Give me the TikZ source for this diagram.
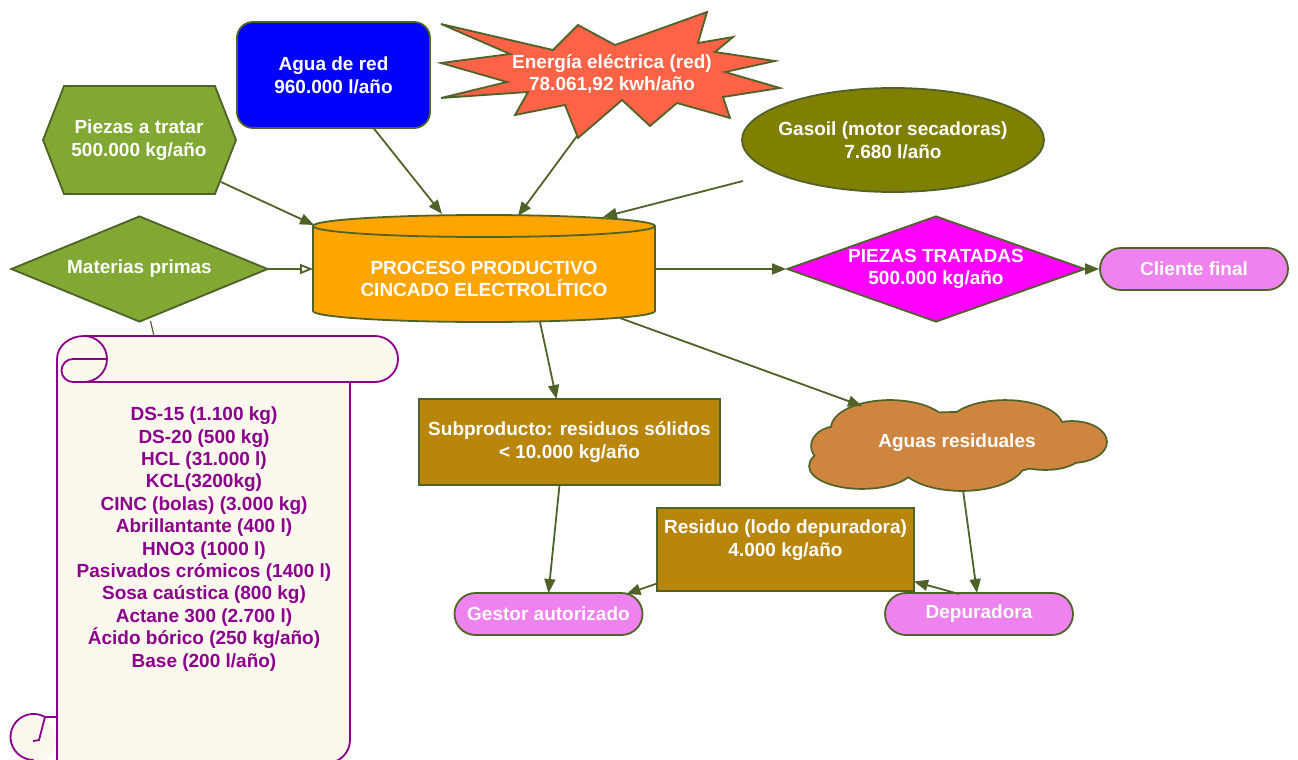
\documentclass[tikz,border=0pt]{standalone}
\usepackage{fontspec}
\setmainfont{Liberation Sans}
\usetikzlibrary{shapes.geometric,shapes.misc,shapes.symbols,arrows.meta,calc}
\definecolor{bord}{HTML}{4F6228}
\definecolor{hexgreen}{HTML}{80A832}
\definecolor{tomatoC}{HTML}{FF6347}
\definecolor{oliveC}{HTML}{808000}
\definecolor{orangeC}{HTML}{FFA500}
\definecolor{magC}{HTML}{FF00FF}
\definecolor{violC}{HTML}{EE82EE}
\definecolor{goldC}{HTML}{B8860B}
\definecolor{peruC}{HTML}{CD853F}
\definecolor{scrollfill}{HTML}{FDF8EE}
\definecolor{scrollline}{HTML}{8B008B}
\begin{document}
\begin{tikzpicture}[x=1pt,y=-1pt,
  txt/.style={font=\bfseries\fontsize{19}{22.7}\selectfont, text=white, align=center, inner sep=2pt},
  bx/.style={draw=bord, line width=1.8pt},
  conn/.style={draw=bord, line width=1.8pt, -{Triangle[length=14pt,width=11pt]}},
  pill/.style={txt, bx, rounded rectangle, fill=violC, minimum width=192pt, minimum height=42pt},
  scr/.style={draw=scrollline, line width=1.8pt},
]
\useasboundingbox (0,0) rectangle (1298,760);

% ---- scroll (lista de materias primas)
\begin{scope}
\clip (0,0) rectangle (1298,760);
\fill[scrollfill] (57,775) -- (57,359) arc[start angle=180, end angle=90, x radius=27pt, y radius=23pt]
  -- (375,336) arc[start angle=90, end angle=-90, radius=23pt] -- (350,382) -- (350,775) -- cycle;
\fill[scrollfill] (33,740) circle[radius=23pt];
\draw[scr] (57,775) -- (57,359) arc[start angle=180, end angle=90, x radius=27pt, y radius=23pt]
  -- (375,336) arc[start angle=90, end angle=-90, radius=23pt] -- (73,382);
\draw[scr] (84,336) arc[start angle=90, end angle=-90, radius=23pt];
\draw[scr] (107,359) -- (73,359) arc[start angle=90, end angle=270, radius=11.5pt];
\draw[scr] (350,382) -- (350,740) arc[start angle=0, end angle=-90, radius=23pt] -- (300,763);
\draw[scr] (57,717) -- (45,717) arc[start angle=60, end angle=270, radius=23pt];
\draw[scr] (45,717) -- (39,740) -- (33,741);
\end{scope}
\node[font=\bfseries\fontsize{19}{22.4}\selectfont, text=scrollline, align=center] (lista) at (204,539)
 {DS-15 (1.100 kg)\\DS-20 (500 kg)\\HCL (31.000 l)\\KCL(3200kg)\\CINC (bolas) (3.000 kg)\\Abrillantante (400 l)\\HNO3 (1000 l)\\Pasivados crómicos (1400 l)\\Sosa caústica (800 kg)\\Actane 300 (2.700 l)\\Ácido bórico (250 kg/año)\\Base (200 l/año)};
\coordinate (scrolltop) at (154,336);

% ---- hexagon
\draw[bx, fill=hexgreen] (43,140) -- (64,86) -- (215,86) -- (236,140) -- (215,194) -- (64,194) -- cycle;
\node[txt, minimum width=193pt, minimum height=108pt] (piezas) at (139,140) {Piezas a tratar\\500.000 kg/año};

% ---- agua
\node[txt, bx, fill=blue, rounded corners=16pt, minimum width=193pt, minimum height=106pt] (agua) at (333.5,75) {Agua de red\\960.000 l/año};

% ---- starburst
\draw[bx, fill=tomatoC] (441,24) -- (553,50) -- (578,25) -- (615,45) -- (707,12) -- (698,43) -- (733,37) -- (715,52)
  -- (775,61) -- (725,72) -- (780,88) -- (723,97) -- (730,118) -- (677,103) -- (650,126) -- (622,100)
  -- (578,138) -- (565,105) -- (515,115) -- (528,92) -- (441,98) -- (507,82) -- (441,63) -- (510,54) -- cycle;
\node[txt] (energia) at (612,74) {Energía eléctrica (red)\\78.061,92 kwh/año};

% ---- gasoil
\draw[bx, fill=oliveC] (893,140) ellipse [x radius=151pt, y radius=52pt];
\node[txt] (gasoil) at (893,140) {Gasoil (motor secadoras)\\7.680 l/año};

% ---- cylinder
\draw[bx, fill=orangeC] (313,226) -- (313,311) arc[start angle=180, end angle=360, x radius=171pt, y radius=11pt]
  -- (655,226) arc[start angle=0, end angle=180, x radius=171pt, y radius=11pt] -- cycle;
\draw[bx] (313,226) arc[start angle=180, end angle=360, x radius=171pt, y radius=11pt];
\node[txt, minimum width=342pt, minimum height=86pt] (proc) at (484,279) {PROCESO PRODUCTIVO\\CINCADO ELECTROLÍTICO};

% ---- diamonds
\node[txt, bx, diamond, fill=hexgreen, minimum width=257pt, minimum height=106pt, aspect=2.42, inner sep=0pt] (materias) at (139.5,269) {Materias primas};
\node[txt, bx, diamond, fill=magC, minimum width=298pt, minimum height=106pt, aspect=2.8, inner sep=0pt] (piezasT) at (936,269) {PIEZAS TRATADAS\\500.000 kg/año};

% ---- pills
\node[pill] (cliente) at (1194,269) {Cliente final};
\node[pill] (gestor) at (548.5,614) {Gestor autorizado};
\node[pill] (depur) at (979,614) {Depuradora};

% ---- brown boxes
\node[txt, bx, fill=goldC, minimum width=301pt, minimum height=86pt] (sub) at (569.5,442) {Subproducto: residuos sólidos\\< 10.000 kg/año};
\node[txt, bx, fill=goldC, minimum width=257pt, minimum height=83pt] (residuo) at (785.5,549.5) {Residuo (lodo depuradora)\\4.000 kg/año\\\mbox{}};

% ---- cloud (union of puffs)
\def\puffs{890/428/58/27, 1005/427/57/26, 1072/442/34/20, 1045/456/34/13, 962/462/62/28, 862/466/52/22, 838/446/26/19, 955/445/105/32}
\foreach \cx/\cy/\rx/\ry in \puffs {\draw[draw=bord, line width=3.6pt] (\cx,\cy) ellipse[x radius=\rx pt, y radius=\ry pt];}
\foreach \cx/\cy/\rx/\ry in \puffs {\fill[peruC] (\cx,\cy) ellipse[x radius=\rx pt, y radius=\ry pt];}
\node[txt] (aguas) at (957,443) {Aguas residuales};

% ---- connectors
\draw[conn] ($(piezas)+(82,42)$) -- ($(proc)+(-170,-54)$);
\draw[conn] ($(agua)+(40,53)$) -- ($(proc)+(-42,-65)$);
\draw[conn] ($(energia)+(-35,62)$) -- ($(proc)+(34,-63)$);
\draw[conn] ($(gasoil)+(-150,41)$) -- ($(proc)+(119,-62)$);
\draw[draw=bord, line width=1.8pt, -{Triangle[open,length=13pt,width=10pt]}] ($(materias)+(128.5,0)$) -- ($(proc)+(-171,-10)$);
\draw[draw=bord, line width=1.2pt] ($(materias)+(11,52)$) -- (scrolltop);
\draw[conn] ($(proc)+(171,-10)$) -- (piezasT.west);
\draw[conn] (piezasT.east) -- (cliente.west);
\draw[conn] ($(proc)+(56,43)$) -- ($(sub)+(-13,-43)$);
\draw[conn] ($(proc)+(136,39)$) -- ($(aguas)+(-95,-37)$);
\draw[conn] ($(sub)+(-10,43)$) -- ($(gestor)+(0,-21)$);
\draw[conn] ($(residuo)+(-128.5,34)$) -- ($(gestor)+(78,-20)$);
\draw[conn] ($(aguas)+(6,47)$) -- ($(depur)+(-2,-21)$);
\draw[conn] ($(depur)+(-20,-20)$) -- ($(residuo)+(128.5,32)$);
\end{tikzpicture}
\end{document}
